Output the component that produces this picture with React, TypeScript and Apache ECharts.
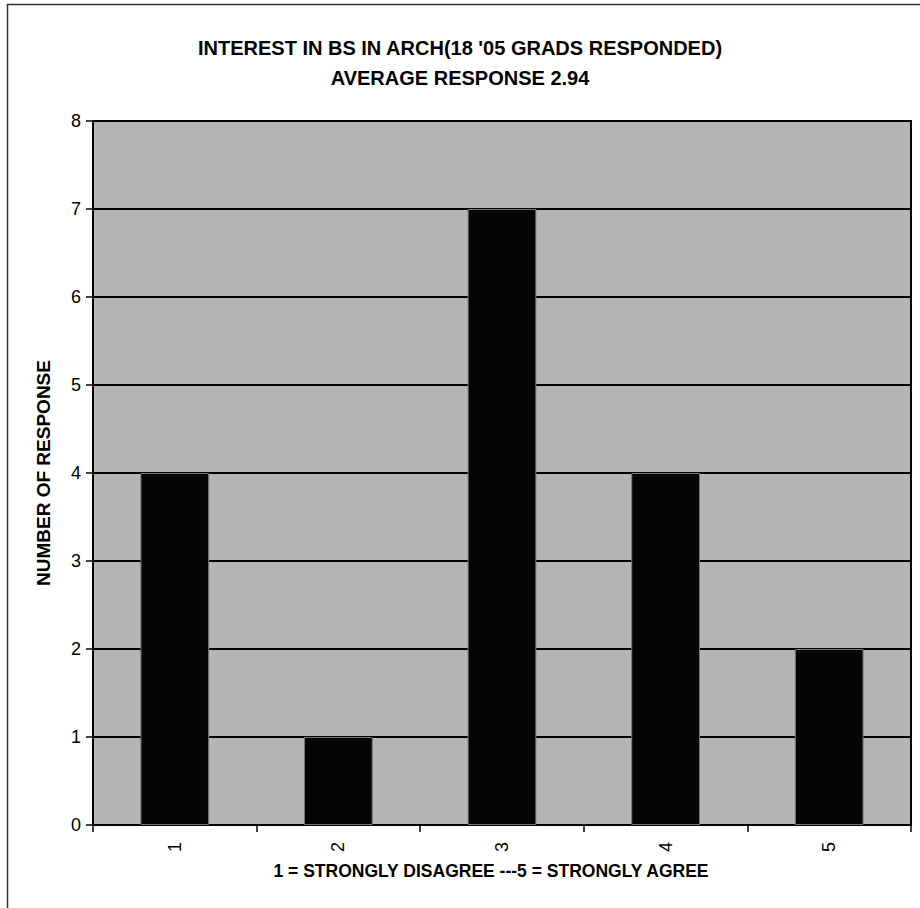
import React, { useEffect, useRef } from "react";
import * as echarts from "echarts";

const titleLines = ["INTEREST IN BS IN ARCH(18 '05 GRADS RESPONDED)", "AVERAGE RESPONSE 2.94"];
const categories = ["1", "2", "3", "4", "5"];
const responses = [4, 1, 7, 4, 2];
const yTicks = { min: 0, max: 8, interval: 1 };
const xAxisName = "1 = STRONGLY DISAGREE ---5 = STRONGLY AGREE";
const yAxisName = "NUMBER OF RESPONSE";

const FONT = "'Liberation Sans', Arial, sans-serif";

export default function App() {
  const ref = useRef<HTMLDivElement>(null);
  useEffect(() => {
    if (!ref.current) return;
    const chart = echarts.init(ref.current, null, { renderer: "svg" });
    chart.setOption({
      animation: false,
      backgroundColor: "#ffffff",
      title: {
        text: titleLines.join("\n"),
        left: "center",
        top: 28,
        textStyle: { fontFamily: FONT, fontSize: 20, fontWeight: "bold", color: "#000", lineHeight: 30 },
      },
      graphic: [
        {
          type: "rect",
          shape: { x: 7.5, y: 4.5, width: 940, height: 940 },
          style: { fill: "none", stroke: "#333", lineWidth: 1.5 },
          silent: true,
        },
      ],
      grid: {
        left: 93,
        top: 121,
        right: 9,
        bottom: 83,
        show: true,
        backgroundColor: "#b5b5b5",
        borderColor: "#000",
        borderWidth: 2,
      },
      xAxis: {
        type: "category",
        data: categories,
        name: xAxisName,
        nameLocation: "middle",
        nameGap: 37,
        nameTextStyle: {
          fontFamily: FONT,
          fontSize: 17.5,
          fontWeight: "bold",
          color: "#000",
          padding: [0, 22, 0, 0],
        },
        axisLine: { lineStyle: { color: "#000", width: 2 } },
        axisTick: { show: true, alignWithLabel: false, length: 7, lineStyle: { color: "#000", width: 1.5 } },
        axisLabel: { rotate: 90, margin: 17, fontFamily: FONT, fontSize: 18, color: "#000" },
        splitLine: { show: false },
      },
      yAxis: {
        type: "value",
        min: yTicks.min,
        max: yTicks.max,
        interval: yTicks.interval,
        name: yAxisName,
        nameLocation: "middle",
        nameGap: 40,
        nameTextStyle: { fontFamily: FONT, fontSize: 19, fontWeight: "bold", color: "#000" },
        axisLine: { show: true, lineStyle: { color: "#000", width: 2 } },
        axisTick: { show: true, length: 7, lineStyle: { color: "#000", width: 1.5 } },
        axisLabel: { margin: 12, fontFamily: FONT, fontSize: 18, color: "#000" },
        splitLine: { show: true, lineStyle: { color: "#000", width: 2 } },
      },
      series: [
        {
          type: "bar",
          data: responses,
          barWidth: "42%",
          itemStyle: { color: "#050505", borderColor: "#777", borderWidth: 1 },
        },
      ],
    });
    return () => chart.dispose();
  }, []);
  return (
    <div
      ref={ref}
      style={{ position: "fixed", left: 0, top: 0, width: 920, height: 908 }}
    />
  );
}
